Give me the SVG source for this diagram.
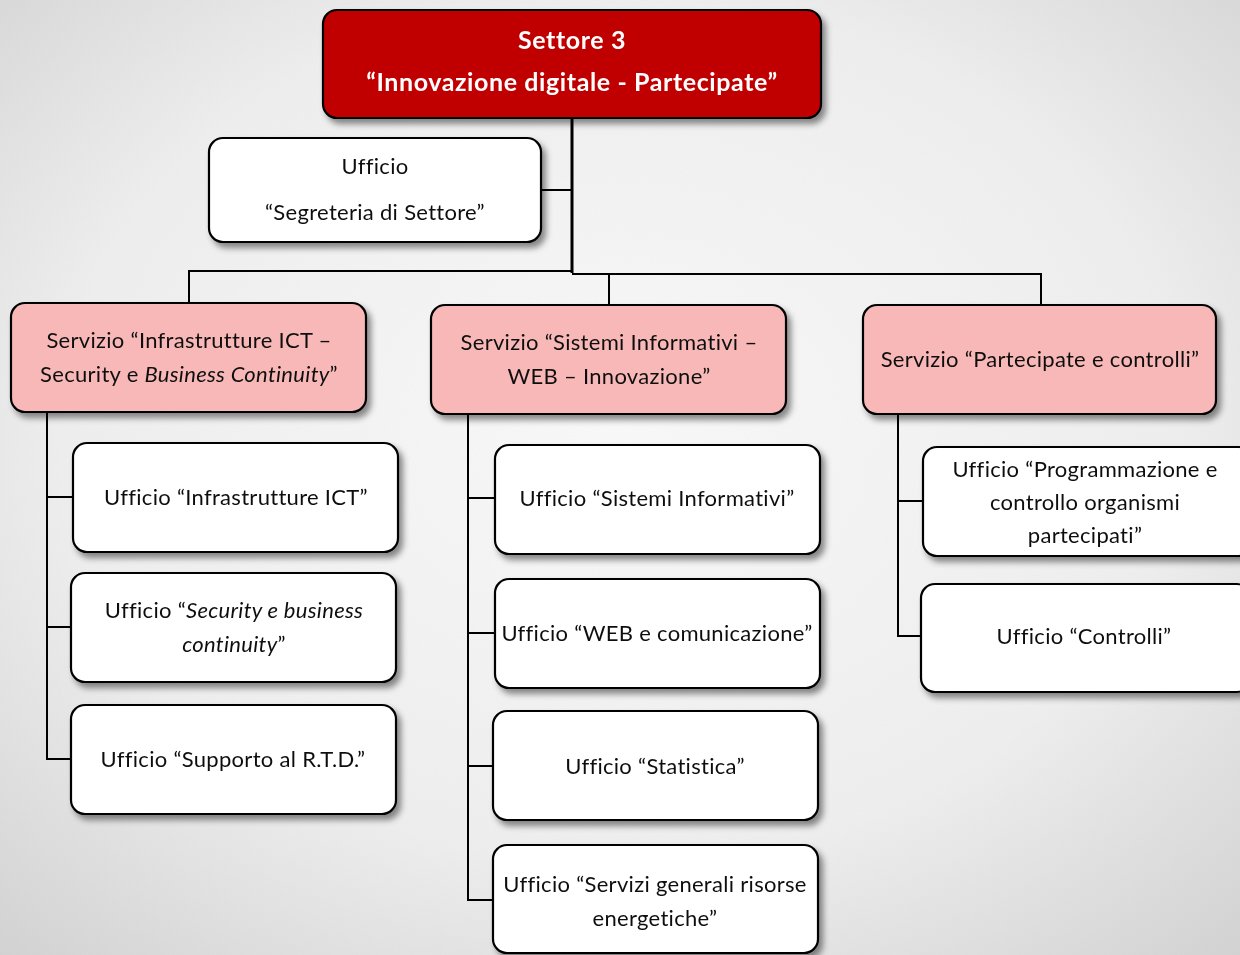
<svg xmlns="http://www.w3.org/2000/svg" width="1240" height="955" viewBox="0 0 1240 955">
<defs>
<radialGradient id="bg" cx="50%" cy="45%" r="75%">
<stop offset="0" stop-color="#fafafa"/>
<stop offset="0.6" stop-color="#efefef"/>
<stop offset="1" stop-color="#d2d2d2"/>
</radialGradient>
<filter id="noise" x="0" y="0" width="100%" height="100%">
<feTurbulence type="fractalNoise" baseFrequency="0.9" numOctaves="2" seed="3" result="n"/>
<feColorMatrix type="matrix" values="0 0 0 0 0.5  0 0 0 0 0.5  0 0 0 0 0.5  0 0 0 0.08 0" />
</filter>
<filter id="sh" x="-10%" y="-10%" width="125%" height="130%">
<feDropShadow dx="4" dy="5" stdDeviation="3" flood-color="#000" flood-opacity="0.45"/>
</filter>
</defs>
<style>
.top{fill:#C00000;stroke:#000;stroke-width:2.2}
.srv{fill:#F9B8B8;stroke:#000;stroke-width:2.2}
.uff{fill:#fff;stroke:#000;stroke-width:2.2}
.t{font-family:Lato,"Open Sans","Liberation Sans",sans-serif;font-size:22px;letter-spacing:0.3px;fill:#111;text-anchor:middle}
.tb{font-family:Lato,"Open Sans","Liberation Sans",sans-serif;font-size:25px;letter-spacing:0.6px;font-weight:bold;fill:#fff;text-anchor:middle}
.c{fill:none;stroke:#000;stroke-width:2}
.cm{fill:none;stroke:#000;stroke-width:3}
</style>
<rect width="1240" height="955" fill="url(#bg)"/>
<rect width="1240" height="955" filter="url(#noise)"/>

<g id="connectors">
<path class="cm" d="M572 118 V273"/>
<path class="c" d="M541 190 H572"/>
<path class="c" d="M189 303 V271 H572"/>
<path class="c" d="M572 274 H1041 V305"/>
<path class="c" d="M609 274 V305"/>
<path class="c" d="M47 412 V759 H71 M47 497 H73 M47 627 H71"/>
<path class="c" d="M468 414 V900 H493 M468 498 H495 M468 633 H495 M468 766 H493"/>
<path class="c" d="M898 414 V636 H921 M898 501 H923"/>
</g>

<g id="settore3" filter="url(#sh)">
<rect class="top" x="323" y="10" width="498" height="108" rx="14"/>
<text class="tb" x="572" y="49">Settore 3</text>
<text class="tb" x="572" y="91">“Innovazione digitale - Partecipate”</text>
</g>

<g id="segreteria" filter="url(#sh)">
<rect class="uff" x="209" y="138" width="332" height="104" rx="14"/>
<text class="t" x="375" y="174">Ufficio</text>
<text class="t" x="375" y="220">“Segreteria di Settore”</text>
</g>

<g id="srv-infra" filter="url(#sh)">
<rect class="srv" x="11" y="303" width="355" height="109" rx="14"/>
<text class="t" x="189" y="348">Servizio “Infrastrutture ICT –</text>
<text class="t" x="189" y="382">Security e <tspan font-style="italic">Business Continuity</tspan>”</text>
</g>

<g id="srv-sistemi" filter="url(#sh)">
<rect class="srv" x="431" y="305" width="355" height="109" rx="14"/>
<text class="t" x="609" y="350">Servizio “Sistemi Informativi –</text>
<text class="t" x="609" y="384">WEB – Innovazione”</text>
</g>

<g id="srv-partecipate" filter="url(#sh)">
<rect class="srv" x="863" y="305" width="353" height="109" rx="14"/>
<text class="t" x="1040" y="367">Servizio “Partecipate e controlli”</text>
</g>

<g id="uff-infra" filter="url(#sh)">
<rect class="uff" x="73" y="443" width="325" height="109" rx="14"/>
<text class="t" x="236" y="505">Ufficio “Infrastrutture ICT”</text>
</g>

<g id="uff-security" filter="url(#sh)">
<rect class="uff" x="71" y="573" width="325" height="109" rx="14"/>
<text class="t" x="234" y="618">Ufficio “<tspan font-style="italic">Security e business</tspan></text>
<text class="t" x="234" y="652"><tspan font-style="italic">continuity</tspan>”</text>
</g>

<g id="uff-rtd" filter="url(#sh)">
<rect class="uff" x="71" y="705" width="325" height="109" rx="14"/>
<text class="t" x="233" y="767">Ufficio “Supporto al R.T.D.”</text>
</g>

<g id="uff-sistemi" filter="url(#sh)">
<rect class="uff" x="495" y="445" width="325" height="109" rx="14"/>
<text class="t" x="657" y="506">Ufficio “Sistemi Informativi”</text>
</g>

<g id="uff-web" filter="url(#sh)">
<rect class="uff" x="495" y="579" width="325" height="109" rx="14"/>
<text class="t" x="657" y="641">Ufficio “WEB e comunicazione”</text>
</g>

<g id="uff-statistica" filter="url(#sh)">
<rect class="uff" x="493" y="711" width="325" height="109" rx="14"/>
<text class="t" x="655" y="774">Ufficio “Statistica”</text>
</g>

<g id="uff-servizi" filter="url(#sh)">
<rect class="uff" x="493" y="845" width="325" height="108" rx="14"/>
<text class="t" x="655" y="892">Ufficio “Servizi generali risorse</text>
<text class="t" x="655" y="926">energetiche”</text>
</g>

<g id="uff-programmazione" filter="url(#sh)">
<rect class="uff" x="923" y="447" width="330" height="109" rx="14"/>
<text class="t" x="1085" y="477">Ufficio “Programmazione e</text>
<text class="t" x="1085" y="510">controllo organismi</text>
<text class="t" x="1085" y="543">partecipati”</text>
</g>

<g id="uff-controlli" filter="url(#sh)">
<rect class="uff" x="921" y="584" width="330" height="108" rx="14"/>
<text class="t" x="1084" y="644">Ufficio “Controlli”</text>
</g>
</svg>
